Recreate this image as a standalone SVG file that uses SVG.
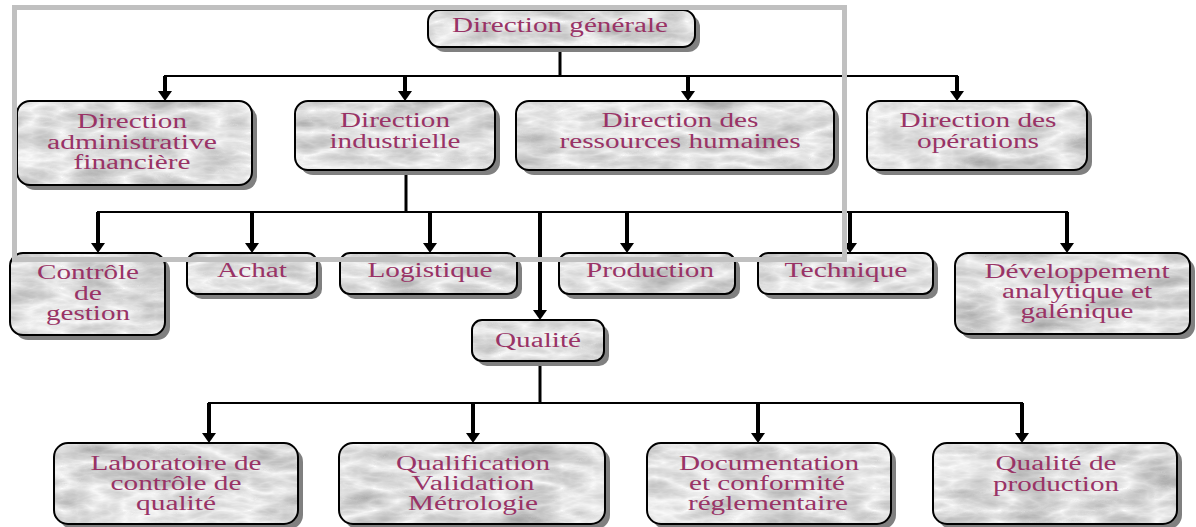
<svg xmlns="http://www.w3.org/2000/svg" width="1196" height="527" viewBox="0 0 1196 527">
  <defs>
    <!-- light grey marble texture, clipped to the shape it is applied to -->
    <filter id="marble" x="0" y="0" width="1" height="1" color-interpolation-filters="sRGB">
      <feTurbulence type="turbulence" baseFrequency="0.016 0.045" numOctaves="4" seed="11" result="noise"/>
      <feColorMatrix in="noise" type="matrix" values="-0.36 0 0 0 0.985  -0.36 0 0 0 0.985  -0.36 0 0 0 0.985  0 0 0 0 1" result="stone"/>
      <feComposite in="stone" in2="SourceGraphic" operator="in"/>
    </filter>
    <marker id="ah" viewBox="0 0 10 14" refX="7" refY="7" markerWidth="10" markerHeight="14" markerUnits="userSpaceOnUse" orient="auto">
      <path d="M0,0 L10,7 L0,14 Z" fill="#000"/>
    </marker>
  </defs>
  <style>
    .sh{fill:#808080}
    .box{fill:#fff;filter:url(#marble)}
    .bd{fill:none;stroke:#000;stroke-width:2}
    .lbl text{font-size:20px;fill:#993366;text-anchor:middle}
    .bus{fill:none;stroke:#000;stroke-width:2}
    .drop{fill:none;stroke:#000;stroke-width:3}
    .arr{fill:none;stroke:#000;stroke-width:4;marker-end:url(#ah)}
    .frame{fill:none;stroke:#c0c0c0;stroke-width:5}
  </style>
  <rect width="1196" height="527" fill="#fff"/>

  <!-- connectors -->
  <g id="connectors">
    <!-- Direction générale to the four directions -->
    <line class="drop" x1="560" y1="47" x2="560" y2="76"/>
    <line class="bus" x1="164" y1="76" x2="958" y2="76"/>
    <line class="arr" x1="165" y1="76" x2="165" y2="98"/>
    <line class="arr" x1="405" y1="76" x2="405" y2="98"/>
    <line class="arr" x1="688" y1="76" x2="688" y2="98"/>
    <line class="arr" x1="957" y1="76" x2="957" y2="98"/>
    <!-- Direction industrielle to its services -->
    <line class="drop" x1="406" y1="170" x2="406" y2="212"/>
    <line class="bus" x1="97" y1="212" x2="1068" y2="212"/>
    <line class="arr" x1="98" y1="212" x2="98" y2="250"/>
    <line class="arr" x1="252" y1="212" x2="252" y2="250"/>
    <line class="arr" x1="430" y1="212" x2="430" y2="250"/>
    <line class="arr" x1="540" y1="212" x2="540" y2="317"/>
    <line class="arr" x1="627" y1="212" x2="627" y2="250"/>
    <line class="arr" x1="850" y1="212" x2="850" y2="250"/>
    <line class="arr" x1="1067" y1="212" x2="1067" y2="250"/>
    <!-- Qualité to its units -->
    <line class="drop" x1="540" y1="361" x2="540" y2="403"/>
    <line class="bus" x1="208" y1="403" x2="1023" y2="403"/>
    <line class="arr" x1="209" y1="403" x2="209" y2="440"/>
    <line class="arr" x1="473" y1="403" x2="473" y2="440"/>
    <line class="arr" x1="758" y1="403" x2="758" y2="440"/>
    <line class="arr" x1="1022" y1="403" x2="1022" y2="440"/>
  </g>

  <g class="lbl" font-family="'Liberation Serif', 'Times New Roman', serif">
  <!-- level 1 -->
  <g id="n-direction-generale">
    <rect class="sh" x="433" y="15" width="267" height="37" rx="12"/>
    <rect class="box" x="428" y="10" width="267" height="37" rx="12"/>
    <rect class="bd" x="428" y="10" width="267" height="37" rx="12"/>
    <text x="560" y="32" textLength="216" lengthAdjust="spacingAndGlyphs">Direction générale</text>
  </g>

  <!-- level 2 -->
  <g id="n-daf">
    <rect class="sh" x="22" y="106" width="235" height="84" rx="13"/>
    <rect class="box" x="17" y="101" width="235" height="84" rx="13"/>
    <rect class="bd" x="17" y="101" width="235" height="84" rx="13"/>
    <text x="132" y="128" textLength="110" lengthAdjust="spacingAndGlyphs">Direction</text>
    <text x="132" y="148.5" textLength="170" lengthAdjust="spacingAndGlyphs">administrative</text>
    <text x="132" y="169" textLength="117" lengthAdjust="spacingAndGlyphs">financière</text>
  </g>
  <g id="n-industrielle">
    <rect class="sh" x="300" y="106" width="200" height="69" rx="13"/>
    <rect class="box" x="295" y="101" width="200" height="69" rx="13"/>
    <rect class="bd" x="295" y="101" width="200" height="69" rx="13"/>
    <text x="395" y="127" textLength="110" lengthAdjust="spacingAndGlyphs">Direction</text>
    <text x="395" y="148" textLength="131" lengthAdjust="spacingAndGlyphs">industrielle</text>
  </g>
  <g id="n-rh">
    <rect class="sh" x="521" y="106" width="318" height="69" rx="13"/>
    <rect class="box" x="516" y="101" width="318" height="69" rx="13"/>
    <rect class="bd" x="516" y="101" width="318" height="69" rx="13"/>
    <text x="680" y="127" textLength="157" lengthAdjust="spacingAndGlyphs">Direction des</text>
    <text x="680" y="148" textLength="241" lengthAdjust="spacingAndGlyphs">ressources humaines</text>
  </g>
  <g id="n-operations">
    <rect class="sh" x="872" y="106" width="220" height="69" rx="13"/>
    <rect class="box" x="867" y="101" width="220" height="69" rx="13"/>
    <rect class="bd" x="867" y="101" width="220" height="69" rx="13"/>
    <text x="978" y="127" textLength="157" lengthAdjust="spacingAndGlyphs">Direction des</text>
    <text x="978" y="148" textLength="122" lengthAdjust="spacingAndGlyphs">opérations</text>
  </g>

  <!-- level 3 -->
  <g id="n-controle">
    <rect class="sh" x="15" y="258" width="155" height="82" rx="13"/>
    <rect class="box" x="10" y="253" width="155" height="82" rx="13"/>
    <rect class="bd" x="10" y="253" width="155" height="82" rx="13"/>
    <text x="88" y="279" textLength="102" lengthAdjust="spacingAndGlyphs">Contrôle</text>
    <text x="88" y="299.5" textLength="28" lengthAdjust="spacingAndGlyphs">de</text>
    <text x="88" y="320" textLength="84" lengthAdjust="spacingAndGlyphs">gestion</text>
  </g>
  <g id="n-achat">
    <rect class="sh" x="192" y="258" width="130" height="41" rx="10"/>
    <rect class="box" x="187" y="253" width="130" height="41" rx="10"/>
    <rect class="bd" x="187" y="253" width="130" height="41" rx="10"/>
    <text x="252" y="277" textLength="70" lengthAdjust="spacingAndGlyphs">Achat</text>
  </g>
  <g id="n-logistique">
    <rect class="sh" x="345" y="258" width="177" height="41" rx="10"/>
    <rect class="box" x="340" y="253" width="177" height="41" rx="10"/>
    <rect class="bd" x="340" y="253" width="177" height="41" rx="10"/>
    <text x="430" y="277" textLength="125" lengthAdjust="spacingAndGlyphs">Logistique</text>
  </g>
  <g id="n-production">
    <rect class="sh" x="564" y="258" width="176" height="41" rx="10"/>
    <rect class="box" x="559" y="253" width="176" height="41" rx="10"/>
    <rect class="bd" x="559" y="253" width="176" height="41" rx="10"/>
    <text x="650" y="277" textLength="128" lengthAdjust="spacingAndGlyphs">Production</text>
  </g>
  <g id="n-technique">
    <rect class="sh" x="763" y="258" width="175" height="41" rx="10"/>
    <rect class="box" x="758" y="253" width="175" height="41" rx="10"/>
    <rect class="bd" x="758" y="253" width="175" height="41" rx="10"/>
    <text x="846" y="277" textLength="123" lengthAdjust="spacingAndGlyphs">Technique</text>
  </g>
  <g id="n-developpement">
    <rect class="sh" x="960" y="258" width="235" height="81" rx="13"/>
    <rect class="box" x="955" y="253" width="235" height="81" rx="13"/>
    <rect class="bd" x="955" y="253" width="235" height="81" rx="13"/>
    <text x="1077" y="278" textLength="185" lengthAdjust="spacingAndGlyphs">Développement</text>
    <text x="1077" y="298" textLength="150" lengthAdjust="spacingAndGlyphs">analytique et</text>
    <text x="1077" y="318" textLength="113" lengthAdjust="spacingAndGlyphs">galénique</text>
  </g>
  <g id="n-qualite">
    <rect class="sh" x="477" y="325" width="132" height="41" rx="10"/>
    <rect class="box" x="472" y="320" width="132" height="41" rx="10"/>
    <rect class="bd" x="472" y="320" width="132" height="41" rx="10"/>
    <text x="538" y="347" textLength="86" lengthAdjust="spacingAndGlyphs">Qualité</text>
  </g>

  <!-- level 4 -->
  <g id="n-laboratoire">
    <rect class="sh" x="59" y="448" width="244" height="81" rx="14"/>
    <rect class="box" x="54" y="443" width="244" height="81" rx="14"/>
    <rect class="bd" x="54" y="443" width="244" height="81" rx="14"/>
    <text x="176" y="470" textLength="171" lengthAdjust="spacingAndGlyphs">Laboratoire de</text>
    <text x="176" y="490" textLength="131" lengthAdjust="spacingAndGlyphs">contrôle de</text>
    <text x="176" y="510" textLength="80" lengthAdjust="spacingAndGlyphs">qualité</text>
  </g>
  <g id="n-qualification">
    <rect class="sh" x="344" y="448" width="266" height="81" rx="14"/>
    <rect class="box" x="339" y="443" width="266" height="81" rx="14"/>
    <rect class="bd" x="339" y="443" width="266" height="81" rx="14"/>
    <text x="473" y="470" textLength="154" lengthAdjust="spacingAndGlyphs">Qualification</text>
    <text x="473" y="490" textLength="123" lengthAdjust="spacingAndGlyphs">Validation</text>
    <text x="473" y="510" textLength="130" lengthAdjust="spacingAndGlyphs">Métrologie</text>
  </g>
  <g id="n-documentation">
    <rect class="sh" x="652" y="448" width="244" height="81" rx="14"/>
    <rect class="box" x="647" y="443" width="244" height="81" rx="14"/>
    <rect class="bd" x="647" y="443" width="244" height="81" rx="14"/>
    <text x="769" y="470" textLength="180" lengthAdjust="spacingAndGlyphs">Documentation</text>
    <text x="767" y="490" textLength="156" lengthAdjust="spacingAndGlyphs">et conformité</text>
    <text x="768" y="510" textLength="160" lengthAdjust="spacingAndGlyphs">réglementaire</text>
  </g>
  <g id="n-qualite-production">
    <rect class="sh" x="938" y="448" width="244" height="81" rx="14"/>
    <rect class="box" x="933" y="443" width="244" height="81" rx="14"/>
    <rect class="bd" x="933" y="443" width="244" height="81" rx="14"/>
    <text x="1056" y="470" textLength="121" lengthAdjust="spacingAndGlyphs">Qualité de</text>
    <text x="1056" y="491" textLength="126" lengthAdjust="spacingAndGlyphs">production</text>
  </g>
  </g>

  <!-- grey frame laid over the upper part of the chart -->
  <rect class="frame" x="14.5" y="7.5" width="830" height="252"/>
</svg>
